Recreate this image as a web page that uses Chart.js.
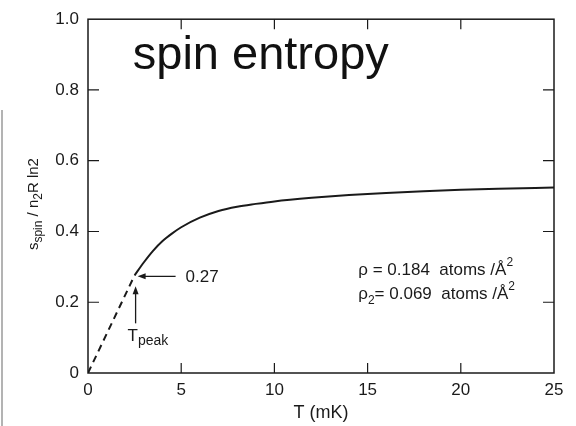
<!DOCTYPE html>
<html>
<head>
<meta charset="utf-8">
<script src="https://cdn.jsdelivr.net/npm/chart.js@4/dist/chart.umd.min.js"></script>
<style>
  body { margin: 0; background: #fff; }
</style>
</head>
<body>
<canvas id="chartCanvas" width="576" height="426"></canvas>
<script>
var chartCanvas = document.getElementById("chartCanvas");
var ctx = chartCanvas.getContext("2d");

// datos
var tDash = [0, 2.5];
var sDash = [0, 0.276];
var tSolid = [2.5, 3, 3.5, 4, 4.5, 5, 6, 7, 8, 9, 10, 12, 14, 16, 18, 20, 22, 25];
var sSolid = [0.276, 0.313, 0.346, 0.373, 0.394, 0.412, 0.439, 0.458, 0.47, 0.478, 0.485, 0.495, 0.503, 0.509, 0.514, 0.518, 0.521, 0.524];
var xTicks = [0, 5, 10, 15, 20, 25];
var yTicks = [0, 0.2, 0.4, 0.6, 0.8, 1.0];
var yTickLabels = ["0", "0.2", "0.4", "0.6", "0.8", "1.0"];
var tPeak = 2.5, sPeak = 0.276;

var FONT = '"Liberation Sans", Arial, sans-serif';
var INK = "#1a1a1a";

function puntos(xs, ys) {
  return xs.map(function (x, i) { return { x: x, y: ys[i] }; });
}

// texto con sub/superindices: [texto, tamaño, desplazamiento]
function textoMixto(c, partes, x, y, centrado) {
  var w = 0;
  partes.forEach(function (p) { c.font = p[1] + "px " + FONT; w += c.measureText(p[0]).width; });
  var cx = centrado ? x - w / 2 : x;
  partes.forEach(function (p) {
    c.font = p[1] + "px " + FONT;
    c.fillText(p[0], cx, y + (p[2] || 0));
    cx += c.measureText(p[0]).width;
  });
}

function flecha(c, x1, y1, x2, y2) {
  // de (x1,y1) a la punta (x2,y2)
  var ang = Math.atan2(y2 - y1, x2 - x1);
  c.beginPath();
  c.moveTo(x1, y1);
  c.lineTo(x2 - 6 * Math.cos(ang), y2 - 6 * Math.sin(ang));
  c.stroke();
  c.beginPath();
  c.moveTo(x2, y2);
  c.lineTo(x2 - 8 * Math.cos(ang) + 3 * Math.sin(ang), y2 - 8 * Math.sin(ang) - 3 * Math.cos(ang));
  c.lineTo(x2 - 8 * Math.cos(ang) - 3 * Math.sin(ang), y2 - 8 * Math.sin(ang) + 3 * Math.cos(ang));
  c.closePath();
  c.fill();
}

var marcoPlugin = {
  id: "marco",
  afterDraw: function (chart) {
    var c = chart.ctx, a = chart.chartArea;
    var xs = chart.scales.x, ys = chart.scales.y;
    c.save();
    c.strokeStyle = INK;
    c.fillStyle = INK;

    // marco y marcas hacia adentro
    c.lineWidth = 1.5;
    c.strokeRect(a.left, a.top, a.right - a.left, a.bottom - a.top);
    c.lineWidth = 1.2;
    c.beginPath();
    xTicks.forEach(function (v) {
      if (v === xs.min || v === xs.max) return;
      var px = xs.getPixelForValue(v);
      c.moveTo(px, a.bottom); c.lineTo(px, a.bottom - 10);
      c.moveTo(px, a.top); c.lineTo(px, a.top + 10);
    });
    yTicks.forEach(function (v) {
      if (v === ys.min || v === ys.max) return;
      var py = ys.getPixelForValue(v);
      c.moveTo(a.left, py); c.lineTo(a.left + 11, py);
      c.moveTo(a.right, py); c.lineTo(a.right - 11, py);
    });
    c.stroke();

    // titulo dentro del grafico
    c.textBaseline = "alphabetic";
    c.textAlign = "left";
    c.font = "47px " + FONT;
    c.fillStyle = "#111";
    c.fillText("spin entropy", xs.getPixelForValue(2.4), ys.getPixelForValue(0.858));

    // flechas de T_peak
    c.fillStyle = INK;
    var px = xs.getPixelForValue(tPeak), py = ys.getPixelForValue(sPeak);
    c.lineWidth = 1.3;
    flecha(c, px + 41, py + 1, px + 3, py + 1);
    flecha(c, px + 1, py + 48, px + 1, py + 11);
    c.textBaseline = "middle";
    c.font = "17px " + FONT;
    c.fillText("0.27", px + 51, py + 2);
    c.textBaseline = "alphabetic";
    textoMixto(c, [["T", 17, 0], ["peak", 14, 4]], px - 7, py + 66, false);

    // densidades
    var rx = xs.getPixelForValue(14.5);
    textoMixto(c, [["\u03C1 = 0.184  atoms /\u00C5", 17, 0], ["2", 12, -9]], rx, ys.getPixelForValue(0.278), false);
    textoMixto(c, [["\u03C1", 17, 0], ["2", 12, 5], ["= 0.069  atoms /\u00C5", 17, 0], ["2", 12, -9]], rx, ys.getPixelForValue(0.208), false);

    // titulo del eje y con subindices
    c.save();
    c.translate(38, (a.top + a.bottom) / 2 + 8);
    c.rotate(-Math.PI / 2);
    textoMixto(c, [["s", 15, 0], ["spin", 12, 4], [" / n", 15, 0], ["2", 12, 4], ["R ln2", 15, 0]], 0, 0, true);
    c.restore();

    // borde gris del escaneo
    c.strokeStyle = "#9a9a9a";
    c.lineWidth = 1.5;
    c.beginPath();
    c.moveTo(2, 110); c.lineTo(2, 426);
    c.stroke();
    c.restore();
  }
};

var chartConfig = {
  type: "line",
  data: {
    datasets: [
      {
        label: "extrapolada",
        data: puntos(tDash, sDash),
        borderColor: INK,
        borderWidth: 2,
        borderDash: [7, 5],
        pointRadius: 0,
        fill: false
      },
      {
        label: "entropia de spin",
        data: puntos(tSolid, sSolid),
        borderColor: INK,
        borderWidth: 2,
        pointRadius: 0,
        cubicInterpolationMode: "monotone",
        fill: false
      }
    ]
  },
  options: {
    responsive: false,
    animation: false,
    layout: { padding: { left: 0, right: 22, top: 14, bottom: 0 } },
    plugins: {
      legend: { display: false },
      tooltip: { enabled: false }
    },
    scales: {
      x: {
        type: "linear",
        min: 0,
        max: 25,
        afterBuildTicks: function (s) { s.ticks = xTicks.map(function (v) { return { value: v }; }); },
        afterFit: function (s) { s.height = 53; },
        grid: { display: false, drawTicks: false },
        border: { display: false },
        ticks: { color: INK, padding: 7, font: { family: FONT, size: 17 } },
        title: { display: true, text: "T (mK)", color: INK, padding: { top: 0, bottom: 2 }, font: { family: FONT, size: 18 } }
      },
      y: {
        min: 0,
        max: 1,
        afterBuildTicks: function (s) { s.ticks = yTicks.map(function (v) { return { value: v }; }); },
        afterFit: function (s) { s.width = 88; },
        grid: { display: false, drawTicks: false },
        border: { display: false },
        ticks: {
          color: INK,
          padding: 9,
          font: { family: FONT, size: 17 },
          callback: function (v) { return yTickLabels[Math.round(v / 0.2)]; }
        }
      }
    }
  },
  plugins: [marcoPlugin]
};

var myChart = new Chart(ctx, chartConfig);
</script>
</body>
</html>
